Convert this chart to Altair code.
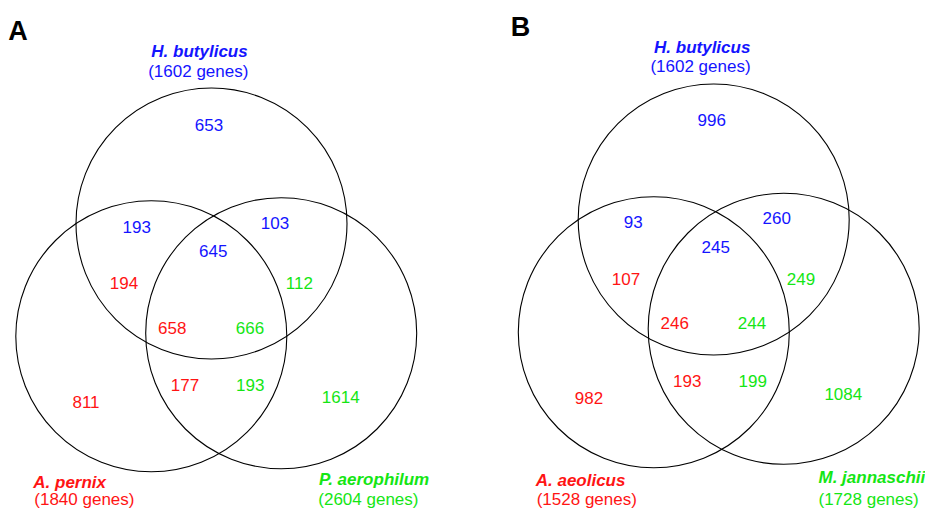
import altair as alt
import pandas as pd

# Circle centres (image pixel units) for each panel
circle_panel = ["A", "A", "A", "B", "B", "B"]
circle_set = ["top", "left", "right", "top", "left", "right"]
circle_x = [211.5, 151.3, 281.2, 713.7, 653.8, 783.7]
circle_y = [223.5, 336.3, 333.2, 219.5, 332.2, 328.8]
circle_r = 135.5

# Region counts
count_text = ["653", "193", "103", "645", "194", "112", "658", "666", "177", "193", "811", "1614",
              "996", "93", "260", "245", "107", "249", "246", "244", "193", "199", "982", "1084"]
count_group = ["H", "H", "H", "H", "R", "G", "R", "G", "R", "G", "R", "G",
               "H", "H", "H", "H", "R", "G", "R", "G", "R", "G", "R", "G"]
count_x = [209, 136.7, 275, 213.3, 124, 299.3, 172.3, 250, 185, 250.3, 86, 340.7,
           711.7, 633.3, 776.7, 715.7, 626, 801, 674.7, 752, 687.3, 752.7, 589, 843.3]
count_y = [130.7, 232.7, 228.7, 257.3, 288.7, 288.7, 334, 334, 391, 391, 407.7, 403.3,
           126, 228.3, 224.3, 253.3, 285, 285, 329.3, 329.3, 386.7, 386.7, 404, 400]

# Species names and gene totals
species_name = ["H. butylicus", "A. pernix", "P. aerophilum",
                "H. butylicus", "A. aeolicus", "M. jannaschii"]
species_genes = ["(1602 genes)", "(1840 genes)", "(2604 genes)",
                 "(1602 genes)", "(1528 genes)", "(1728 genes)"]
species_group = ["H", "R", "G", "H", "R", "G"]
species_align = ["center", "left", "left", "center", "left", "left"]
name_x = [199.5, 33.3, 319, 702.2, 535.7, 818.5]
name_y = [57.0, 488.0, 485.0, 52.7, 486.0, 482.7]
genes_x = [198.3, 34.3, 318.3, 700.5, 536.7, 818.5]
genes_y = [77.3, 505.3, 505.0, 71.7, 505.3, 504.5]

panel_label = ["A", "B"]
panel_x = [8.3, 510.7]
panel_y = [40, 36]

colors = {"H": "#1414ff", "R": "#ff1414", "G": "#14e614"}

W, H = 917, 501
xs = alt.Scale(domain=[8, 8 + W], range=[0, W])
ys = alt.Scale(domain=[8, 8 + H], range=[0, H])
FONT = "Liberation Sans"

circles = pd.DataFrame({"panel": circle_panel, "set": circle_set, "x": circle_x, "y": circle_y})
counts = pd.DataFrame({"t": count_text, "g": count_group, "x": count_x, "y": count_y})
counts["c"] = counts["g"].map(colors)

names_c = []
names_l = []
for i in range(len(species_name)):
    rows = [
        {"t": species_name[i], "x": name_x[i], "y": name_y[i], "c": colors[species_group[i]], "kind": "name"},
        {"t": species_genes[i], "x": genes_x[i], "y": genes_y[i], "c": colors[species_group[i]], "kind": "genes"},
    ]
    (names_c if species_align[i] == "center" else names_l).extend(rows)
names_c = pd.DataFrame(names_c)
names_l = pd.DataFrame(names_l)
panels = pd.DataFrame({"t": panel_label, "x": panel_x, "y": panel_y})

enc_xy = dict(x=alt.X("x:Q", scale=xs, axis=None), y=alt.Y("y:Q", scale=ys, axis=None))

circle_layer = alt.Chart(circles).mark_point(
    shape="circle", filled=False, stroke="black", strokeWidth=1.1, opacity=1
).encode(size=alt.value((2 * circle_r) ** 2), **enc_xy)

count_layer = alt.Chart(counts).mark_text(
    font=FONT, fontSize=17, baseline="alphabetic", align="center"
).encode(text="t:N", color=alt.Color("c:N", scale=None), **enc_xy)


def name_layers(df, align):
    nm = alt.Chart(df).transform_filter(alt.datum.kind == "name").mark_text(
        font=FONT, fontSize=17, fontWeight="bold", fontStyle="italic",
        baseline="alphabetic", align=align
    ).encode(text="t:N", color=alt.Color("c:N", scale=None), **enc_xy)
    gn = alt.Chart(df).transform_filter(alt.datum.kind == "genes").mark_text(
        font=FONT, fontSize=17, baseline="alphabetic", align=align
    ).encode(text="t:N", color=alt.Color("c:N", scale=None), **enc_xy)
    return [nm, gn]


panel_layer = alt.Chart(panels).mark_text(
    font=FONT, fontSize=27, fontWeight="bold", baseline="alphabetic", align="left", color="black"
).encode(text="t:N", **enc_xy)

chart = alt.layer(
    circle_layer, count_layer, *name_layers(names_c, "center"), *name_layers(names_l, "left"), panel_layer
).properties(
    width=W, height=H,
    padding=0,
    autosize=alt.AutoSizeParams(type="none"),
).configure_view(stroke=None)

chart.save("out.html", embed_options={"renderer": "svg", "actions": False})
